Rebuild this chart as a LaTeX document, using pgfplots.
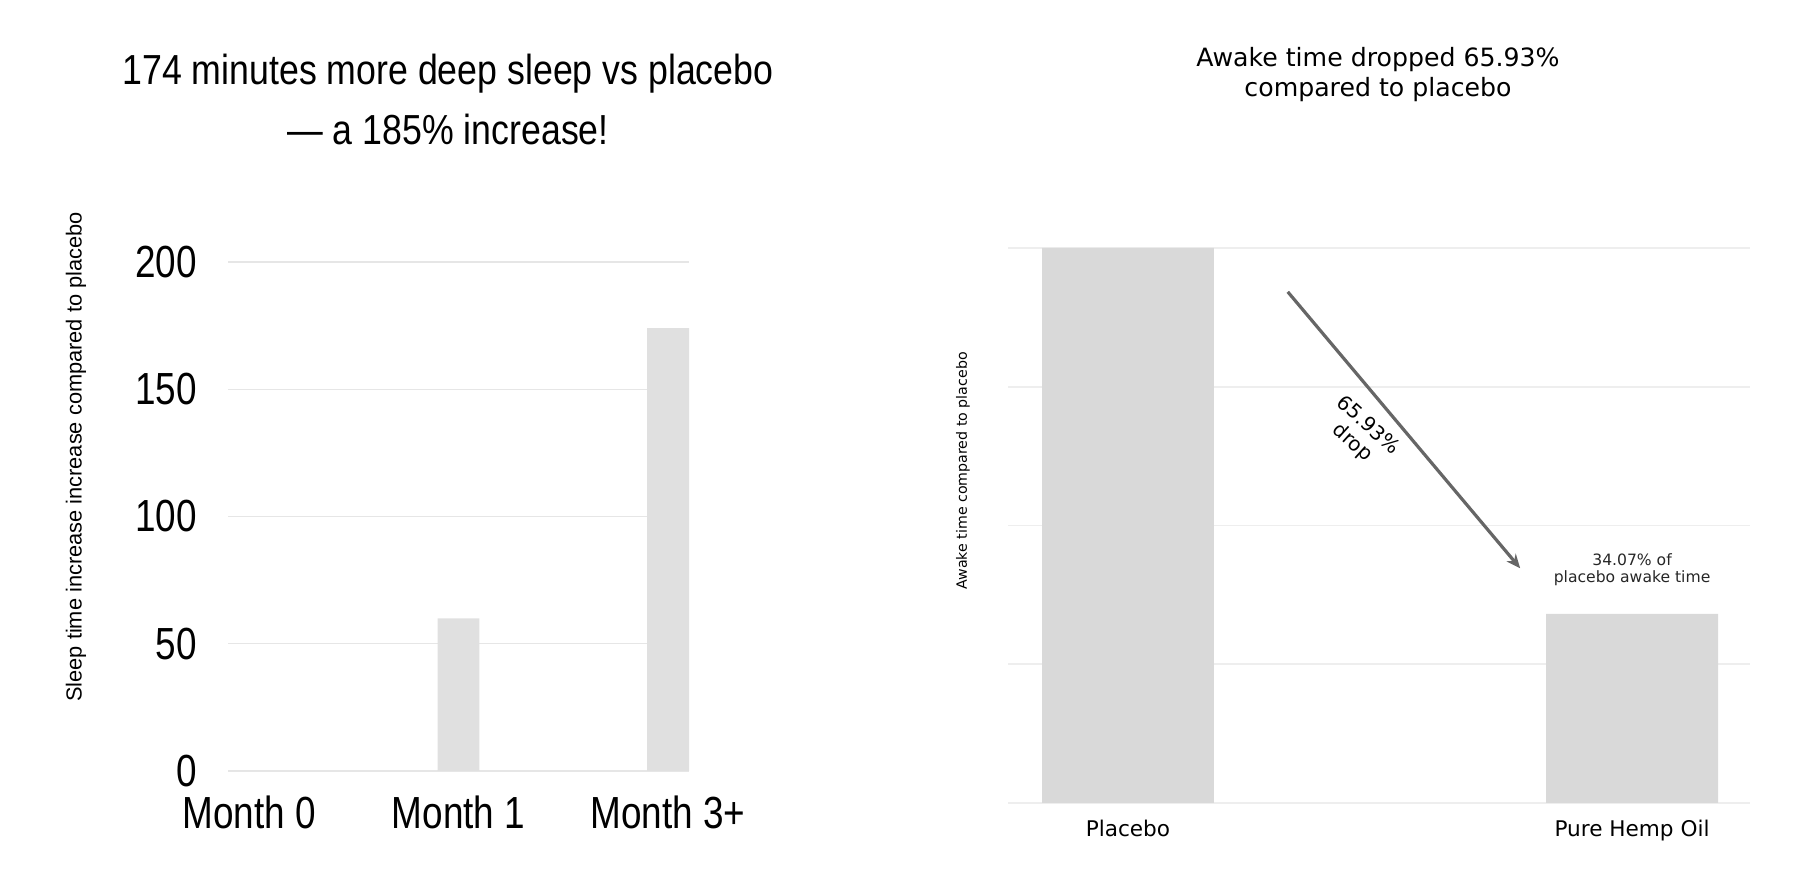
\documentclass[border=0pt]{standalone}
\usepackage{pgfplots}
\pgfplotsset{compat=1.18}
\usepackage{fontspec}
\setmainfont{DejaVu Sans}
\newfontfamily\narrow[FakeStretch=0.85]{Liberation Sans}
\newfontfamily\narrowtick[FakeStretch=0.82]{Liberation Sans}
\newfontfamily\arialf{Liberation Sans}
\usetikzlibrary{arrows.meta}
\definecolor{barL}{HTML}{E0E0E0}
\definecolor{barR}{HTML}{D9D9D9}
\definecolor{gridL}{HTML}{E6E6E6}
\definecolor{gridR}{HTML}{EEEEEE}
\definecolor{zeroL}{HTML}{D4D4D4}
\definecolor{arrowc}{HTML}{666666}
\begin{document}
\begin{tikzpicture}
\useasboundingbox (0,0) rectangle (898.5pt,443.5pt);
% ---------------- left chart ----------------
\begin{axis}[
  scale only axis, at={(114pt,58pt)}, anchor=south west,
  width=230.5pt, height=254.5pt,
  xmin=-0.1, xmax=2.1, ymin=0, ymax=200,
  xtick={0,1,2}, xticklabels={Month 0,Month 1,Month 3+},
  ytick={0,50,100,150,200},
  ymajorgrids, major grid style={gridL, line width=0.7pt},
  extra y ticks={0}, extra y tick labels={},
  extra y tick style={grid style={zeroL, line width=0.8pt}},
  axis line style={draw=none},
  major tick length=0pt,
  /pgf/number format/assume math mode=true,
  ticklabel style={font=\narrowtick\fontsize{22.5}{26}\selectfont, inner sep=0pt},
  yticklabel style={anchor=east, xshift=-15.5pt},
  xticklabel style={anchor=north, yshift=-12pt},
  clip=false,
]
\addplot[ybar, bar width=0.2, fill=barL, draw=none] coordinates {(0,0) (1,60) (2,174)};
\end{axis}
\node[font=\narrow\fontsize{21}{25}\selectfont, anchor=base] at (224pt,401pt) {174 minutes more deep sleep vs placebo};
\node[font=\narrow\fontsize{21}{25}\selectfont, anchor=base] at (224pt,371pt) {— a 185\% increase!};
\node[rotate=90, font=\arialf\fontsize{10.9}{13}\selectfont] at (38pt,215pt) {Sleep time increase increase compared to placebo};
% ---------------- right chart ----------------
\begin{axis}[
  scale only axis, at={(504pt,42pt)}, anchor=south west,
  width=371pt, height=277.5pt,
  xmin=-0.238, xmax=1.234, ymin=0, ymax=1,
  xtick={0,1}, xticklabels={Placebo,Pure Hemp Oil},
  ytick={0,0.25,0.5,0.75,1}, yticklabel=\empty,
  ymajorgrids, major grid style={gridR, line width=0.8pt},
  axis line style={draw=none}, major tick length=0pt,
  xticklabel style={font=\fontsize{10.8}{13}\selectfont, anchor=north, inner sep=0pt, yshift=-8.5pt},
  clip=false,
]
\addplot[ybar, bar width=0.341, fill=barR, draw=none] coordinates {(0,1) (1,0.3407)};
\draw[arrowc, line width=1.6pt, -{Stealth[length=7pt,width=6pt]}] (axis cs:0.317,0.921) -- (axis cs:0.778,0.423);
\node[rotate=-42, align=center, font=\fontsize{10}{11.5}\selectfont] at (axis cs:0.46,0.664) {65.93\%\\drop};
\node[align=center, font=\fontsize{7.8}{8.8}\selectfont, text=black!85] at (axis cs:1,0.42) {34.07\% of\\placebo awake time};
\end{axis}
\node[font=\fontsize{12.6}{15}\selectfont, anchor=base] at (689pt,410pt) {Awake time dropped 65.93\%};
\node[font=\fontsize{12.6}{15}\selectfont, anchor=base] at (689pt,395.3pt) {compared to placebo};
\node[rotate=90, font=\fontsize{7.1}{9}\selectfont] at (481.5pt,208pt) {Awake time compared to placebo};
\end{tikzpicture}
\end{document}
